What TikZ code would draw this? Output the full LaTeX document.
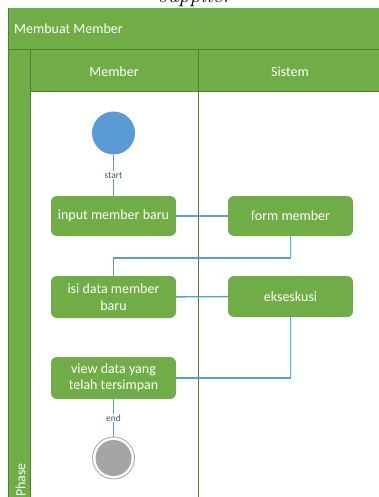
\documentclass[tikz,border=0pt]{standalone}
\usepackage{fontspec}
\setmainfont{Carlito}
\usetikzlibrary{calc}
\definecolor{lanegreen}{HTML}{70AD47}
\definecolor{edgegreen}{HTML}{507E32}
\definecolor{flowblue}{HTML}{5B9BD5}
\definecolor{flowcyan}{HTML}{3FB8EE}
\definecolor{labelblue}{HTML}{44546A}
\definecolor{finalgray}{HTML}{A5A5A5}
\begin{document}
\begin{tikzpicture}[x=1pt,y=-1pt,
  actbox/.style={rectangle, rounded corners=6pt, fill=lanegreen, text=white,
    minimum width=125pt, minimum height=40pt, inner sep=0pt, align=center,
    font=\fontsize{14}{16.5}\selectfont},
  headtext/.style={text=white, inner sep=0pt, font=\fontsize{14}{16}\selectfont},
  flow/.style={draw=flowblue, line width=1.4pt},
  flowdown/.style={draw=flowcyan, line width=1.4pt},
  edgelabel/.style={fill=white, text=labelblue, inner sep=1pt,
    font=\fontsize{9.5}{10}\selectfont},
  laneline/.style={draw=edgegreen, line width=1pt}]
\useasboundingbox (0,0) rectangle (378,497);

% caption line above the pool (only its lower part lies on the page)
\node[anchor=base, inner sep=0pt, font=\fontsize{22}{24}\selectfont\rmfamily\itshape]
  (caption) at (195,3) {\fontspec{Latin Modern Roman}\itshape supplier};

% pool frame: title band, phase column and lane headers
\fill[lanegreen] (8,8) rectangle (400,520);
\fill[white] (30,92) rectangle (400,520);
\draw[laneline] (8,8) -- (8,520);
\draw[laneline] (8,49.5) -- (400,49.5);
\draw[laneline] (30,49.5) -- (30,520);
\draw[laneline] (30,92) -- (400,92);
\draw[laneline] (198,49.5) -- (198,520);

\node[headtext, anchor=west] (pooltitle) at (14,29) {Membuat Member};
\node[headtext] (lanemember) at (114,72) {Member};
\node[headtext] (lanesistem) at (290,72) {Sistem};
\node[headtext, rotate=90, anchor=east] (phase) at (20.5,463) {Phase};

% initial and final states
\node[circle, fill=flowblue, minimum size=43pt, inner sep=0pt] (start) at (113.5,133) {};
\node[circle, draw=finalgray, line width=0.8pt, minimum size=42pt, inner sep=0pt] (final) at (113.5,458) {};
\fill[finalgray] (final.center) circle (18);

% activities
\node[actbox] (input) at (113.5,216) {input member baru};
\node[actbox] (form) at (290.5,216) {form member};
\node[actbox, minimum height=42pt] (isi) at (113.5,297) {isi data member\\baru};
\node[actbox, minimum height=41pt] (eksekusi) at (290.5,296.5) {ekseskusi};
\node[actbox, minimum height=42pt] (view) at (113.5,378) {view data yang\\telah tersimpan};

% bend points of the return flows
\coordinate (bendA) at (290.5,258);
\coordinate (bendB) at (290.5,378);

% control flow
\draw[flow] (start) -- node[edgelabel] {start} (input);
\draw[flow] (input) -- (form);
\draw[flowdown] (form) -- (bendA);
\draw[flow] (bendA) -| (isi);
\draw[flow] (isi) -- (eksekusi);
\draw[flowdown] (eksekusi) -- (bendB);
\draw[flow] (bendB) -- (view);
\draw[flow] (view) -- node[edgelabel] {end} (final);
\end{tikzpicture}
\end{document}
